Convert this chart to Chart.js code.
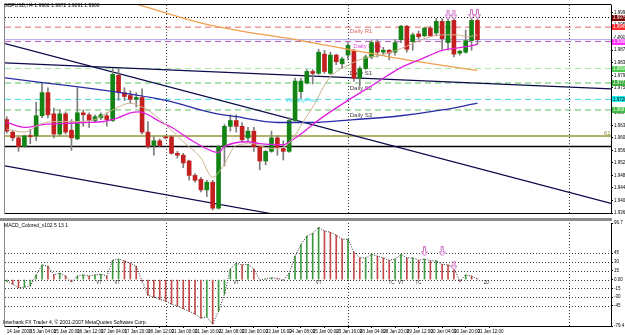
<!DOCTYPE html>
<html><head><meta charset="utf-8">
<script src="https://cdn.jsdelivr.net/npm/chart.js@4.4.0/dist/chart.umd.min.js"></script>
<style>
html,body{margin:0;padding:0;background:#fff;overflow:hidden}
#wrap{position:relative;width:625px;height:335px;background:#fff}
canvas{position:absolute;left:0}
#c1{top:0}
#c2{top:218px}
</style></head><body>
<div id="wrap"><canvas id="c1" width="625" height="218"></canvas><canvas id="c2" width="625" height="117"></canvas></div>
<script>
// ---------------- DATA ----------------
const SYMBOL = 'GBPUSD,H4';
const OPEN  = [1.9657,1.9618,1.9600,1.9573,1.9606,1.9606,1.9669,1.9741,1.9675,1.9612,1.9675,1.9624,1.9597,1.9678,1.9672,1.9654,1.9663,1.9669,1.9654,1.9795,1.9741,1.9732,1.9720,1.9726,1.9618,1.9576,1.9591,1.9603,1.9603,1.9552,1.9546,1.9528,1.9483,1.9471,1.9438,1.9462,1.9381,1.9573,1.9636,1.9654,1.9636,1.9600,1.9621,1.9573,1.9528,1.9558,1.9600,1.9567,1.9558,1.9654,1.9744,1.9771,1.9807,1.9801,1.9861,1.9801,1.9858,1.9831,1.9858,1.9870,1.9786,1.9816,1.9852,1.9897,1.9867,1.9873,1.9867,1.9906,1.9948,1.9900,1.9924,1.9918,1.9942,1.9927,1.9963,1.9897,1.9966,1.9864,1.9867,1.9903,1.9966];
const HIGH  = [1.9666,1.9624,1.9603,1.9609,1.9627,1.9711,1.9771,1.9756,1.9693,1.9687,1.9681,1.9657,1.9756,1.9687,1.9678,1.9672,1.9678,1.9678,1.9816,1.9816,1.9756,1.9747,1.9741,1.9753,1.9651,1.9603,1.9597,1.9606,1.9606,1.9558,1.9552,1.9531,1.9489,1.9477,1.9468,1.9468,1.9576,1.9642,1.9672,1.9672,1.9648,1.9633,1.9633,1.9576,1.9561,1.9621,1.9606,1.9591,1.9663,1.9786,1.9786,1.9813,1.9813,1.9876,1.9873,1.9867,1.9861,1.9852,1.9897,1.9876,1.9822,1.9858,1.9903,1.9906,1.9882,1.9876,1.9906,1.9951,1.9951,1.9927,1.9933,1.9945,1.9948,1.9972,1.9972,1.9972,1.9972,1.9873,1.9936,1.9972,1.9972];
const LOW   = [1.9615,1.9591,1.9558,1.9570,1.9582,1.9591,1.9663,1.9663,1.9600,1.9609,1.9612,1.9561,1.9594,1.9636,1.9633,1.9648,1.9657,1.9636,1.9651,1.9717,1.9717,1.9708,1.9696,1.9612,1.9567,1.9546,1.9573,1.9597,1.9549,1.9537,1.9507,1.9468,1.9462,1.9432,1.9417,1.9375,1.9378,1.9513,1.9621,1.9618,1.9588,1.9588,1.9558,1.9501,1.9516,1.9555,1.9546,1.9531,1.9555,1.9651,1.9723,1.9768,1.9768,1.9798,1.9801,1.9798,1.9828,1.9816,1.9843,1.9777,1.9762,1.9813,1.9846,1.9852,1.9858,1.9843,1.9858,1.9897,1.9867,1.9873,1.9909,1.9915,1.9915,1.9918,1.9876,1.9873,1.9852,1.9858,1.9864,1.9873,1.9891];
const CLOSE = [1.9621,1.9600,1.9573,1.9606,1.9604,1.9669,1.9741,1.9672,1.9612,1.9675,1.9618,1.9600,1.9678,1.9672,1.9654,1.9666,1.9672,1.9657,1.9798,1.9741,1.9729,1.9720,1.9726,1.9618,1.9573,1.9591,1.9576,1.9600,1.9552,1.9546,1.9522,1.9483,1.9468,1.9438,1.9462,1.9381,1.9573,1.9636,1.9654,1.9636,1.9594,1.9621,1.9573,1.9528,1.9558,1.9600,1.9570,1.9558,1.9654,1.9777,1.9777,1.9807,1.9801,1.9867,1.9807,1.9858,1.9837,1.9846,1.9888,1.9786,1.9816,1.9852,1.9897,1.9867,1.9873,1.9864,1.9897,1.9948,1.9876,1.9921,1.9915,1.9942,1.9918,1.9963,1.9909,1.9963,1.9861,1.9870,1.9903,1.9966,1.9906];

// moving averages (bar index, price)
const MA200_BARS   = [17, 22, 34, 50, 68, 80];
const MA200_VALUES = [2.0044, 2.0017, 1.9954, 1.9903, 1.9843, 1.9810];
const MA100_BARS   = [-1, 27, 35, 39, 46, 52, 59, 67, 74, 80];
const MA100_VALUES = [1.9789, 1.9717, 1.9678, 1.9666, 1.9648, 1.9648, 1.9657, 1.9669, 1.9687, 1.9708];
const MA21_BARS    = [0, 3, 6.4, 10, 13, 16.5, 19, 21, 22.5, 24, 26, 28, 31, 35, 36, 37, 41, 43, 47, 48.6, 50, 52, 55, 58, 62.5, 67, 70.5, 74, 76, 78.4, 80];
const MA21_VALUES  = [1.9648, 1.9633, 1.9642, 1.9645, 1.9648, 1.9651, 1.9663, 1.9678, 1.9681, 1.9672, 1.9651, 1.9633, 1.9597, 1.9558, 1.9555, 1.9573, 1.9588, 1.9582, 1.9579, 1.9594, 1.9612, 1.9642, 1.9681, 1.9717, 1.9768, 1.9819, 1.9846, 1.9873, 1.9879, 1.9885, 1.9891];
const MA8_BARS     = [0, 3, 5.6, 8, 11.5, 15, 16.5, 18, 21, 23, 24, 26.6, 30, 33, 35, 36.8, 39, 41.8, 44.7, 46.9, 48.6, 50.3, 52, 54.8, 58.2, 60.4, 63.7, 67.1, 70.5, 73.9, 76.4, 78.4, 80];
const MA8_VALUES   = [1.9627, 1.9618, 1.9642, 1.9651, 1.9651, 1.9657, 1.9672, 1.9687, 1.9708, 1.9696, 1.9687, 1.9648, 1.9588, 1.9537, 1.9477, 1.9513, 1.9576, 1.9582, 1.9567, 1.9570, 1.9597, 1.9648, 1.9696, 1.9786, 1.9828, 1.9846, 1.9858, 1.9879, 1.9906, 1.9921, 1.9921, 1.9915, 1.9921];

// trend lines (end points: bar index, price)
const TREND_A_BARS = [-0.3, 102.7], TREND_A_VALUES = [1.9894, 1.9396];
const TREND_B_BARS = [-0.3, 102.7], TREND_B_VALUES = [1.9834, 1.9753];
const TREND_C_BARS = [-0.3, 45.2],  TREND_C_VALUES = [1.9513, 1.9363];

// horizontal levels
const LEVEL_VALUES = [1.9975, 1.9945, 1.9906, 1.9900, 1.9816, 1.9771, 1.9720, 1.9687, 1.9606, 1.9573];
const LEVEL_NAMES  = ['', 'Daily R1', '', 'Daily Pivot', 'Daily S1', 'Daily S2', 'WeeklyPivot', 'Daily S3', '61.8', ''];
const TAG_VALUES   = [1.9975, 1.9945, 1.9906, 1.9900, 1.9816, 1.9771, 1.9720, 1.9687];

const Y_TICKS = [1.9990,1.9951,1.9912,1.9873,1.9834,1.9795,1.9756,1.9717,1.9678,1.9639,1.9600,1.9561,1.9522,1.9483,1.9444,1.9405,1.9366];
const SEPARATOR_BARS = [27, 58, 95.6];
const ARROW_BARS = [75, 76, 79, 80];
const ARROW_VALUES = [1.9984, 1.9984, 1.9985, 1.9985];

// MACD sub-window
const MACD_NAME = 'MACD_Colored_v102 5 13 1';
const MACD = [-3,-8,-14,-13,-11,8,25,23,8,11,6,-4,6,8,6,8,9,6,33,35,32,28,23,-3,-27,-30,-34,-37,-42,-45,-50,-54,-59,-66,-64,-76,-54,-25,18,28,25,26,18,-1,1,3,2,-1,11,40,60,74,79,89,83,81,76,69,69,47,37,37,43,40,37,33,35,43,37,37,33,35,32,32,26,25,20,-3,8,6,1];
const MACD_LEVELS = [45, 30, 15, 0, -15, -30, -45];
const MACD_TICKS = [96.7, 45, 30, 15, 0, -15, -30, -45, -79.4];
const MACD_TICK_LABELS = ['96.7', '45', '30', '15', '0.00', '-15', '-30', '-45', '-79.4'];
const MACD_ARROW_BARS = [71, 74, 76];
const MACD_ARROW_VALUES = [48, 48, 24];
const MACD_MARK_BARS = [15.7, 18.8, 39, 53, 65.4, 67, 70, 81.5];
const MACD_MARK_TEXTS = ['VT', 'VT', 'VT', 'VT', 'TC', 'VT', 'TC', '20'];

const X_TICK_BARS = [0,4,8,12,16,20,24,28,32,36,40,44,48,52,56,60,64,68,72,76,80];
const X_TICK_LABELS = ['14 Jan 2008','15 Jan 04:00','15 Jan 20:00','16 Jan 12:00','17 Jan 04:00','17 Jan 20:00','18 Jan 12:00','21 Jan 00:00','21 Jan 16:00','22 Jan 08:00','23 Jan 00:00','23 Jan 16:00','24 Jan 08:00','25 Jan 00:00','25 Jan 16:00','28 Jan 04:00','28 Jan 20:00','29 Jan 12:00','30 Jan 04:00','30 Jan 20:00','31 Jan 12:00'];
const FOOTER = 'Interbank FX Trader 4, \u00a9 2001-2007 MetaQuotes Software Corp.';

// ---------------- STYLES ----------------
const FONT = '"Liberation Sans", Arial, sans-serif';
Chart.defaults.font.family = FONT;
const X_MIN = -0.3, X_MAX = 102.7;
const UP = '#138413', DOWN = '#c41f1f', WICK = '#7d7d7d';
const LEVEL_STYLE = [
  {c:'#000000', d:[1,2], w:1},
  {c:'#e06a6a', d:[6,4], w:1},
  {c:'#a6a6e6', d:[], w:1},
  {c:'#c25ac2', d:[6,4], w:1},
  {c:'#a8e6a8', d:[6,4], w:1},
  {c:'#5ec05e', d:[6,4], w:1},
  {c:'#44dde6', d:[6,4], w:1},
  {c:'#5ec05e', d:[6,4], w:1},
  {c:'#b2b26e', d:[], w:2},
  {c:'#000000', d:[], w:1.5}
];
const LABEL_STYLE = [
  null,
  {bar:58.3, c:'#e06a6a', dy:1},
  null,
  {bar:58.9, c:'#e04ae0', dy:2},
  {bar:58.3, c:'#404040', dy:2},
  {bar:58.3, c:'#404040', dy:2},
  {bar:47.4, c:'#35d5e5', dy:-2},
  {bar:58.3, c:'#404040', dy:2},
  {bar:101.5, c:'#8a8a40', dy:-6},
  null
];
const TAG_STYLE = [
  {bg:'#7a0000', fg:'#ffffff'},
  {bg:'#ff2a2a', fg:'#ffffff'},
  {bg:'#ffffff', fg:'#000000'},
  {bg:'#ff2cff', fg:'#ffffff'},
  {bg:'#4ccc4c', fg:'#ffffff'},
  {bg:'#3cae3c', fg:'#ffffff'},
  {bg:'#22eeee', fg:'#000000'},
  {bg:'#3cbc3c', fg:'#ffffff'}
];

function pts(xs, ys){ return xs.map((x,i)=>({x:x, y:ys[i]})); }
function makeArrow(color){
  const c = document.createElement('canvas'); c.width = 7; c.height = 10;
  const g = c.getContext('2d');
  g.strokeStyle = color; g.fillStyle = '#ffffff'; g.lineWidth = 1;
  g.beginPath();
  g.moveTo(2.5,0.5); g.lineTo(4.5,0.5); g.lineTo(4.5,5.5); g.lineTo(6.5,5.5);
  g.lineTo(3.5,9.5); g.lineTo(0.5,5.5); g.lineTo(2.5,5.5); g.closePath();
  g.fill(); g.stroke();
  return c;
}
const ARROW_IMG = makeArrow('#cf6fc8');
const BARS = OPEN.map((_, i) => i);

// ---------------- MAIN CHART ----------------
const levelDatasets = LEVEL_VALUES.map((v, i) => ({
  type:'line', data:[{x:X_MIN, y:v},{x:X_MAX, y:v}],
  borderColor: LEVEL_STYLE[i].c, borderDash: LEVEL_STYLE[i].d, borderWidth: LEVEL_STYLE[i].w,
  pointRadius:0, order:30
}));
function trend(xs, ys, color, w){
  return {type:'line', data:pts(xs, ys), borderColor:color, borderWidth:w, pointRadius:0, order:25};
}
function ma(xs, ys, color, w){
  return {type:'line', data:pts(xs, ys), borderColor:color, borderWidth:w, pointRadius:0,
          cubicInterpolationMode:'monotone', order:5};
}

const mainPlugin = {
  id:'mainDeco',
  beforeDatasetsDraw(chart){
    const {ctx, chartArea:a, scales:{x, y}} = chart;
    ctx.save();
    ctx.beginPath(); ctx.rect(a.left, a.top, a.right-a.left, a.bottom-a.top); ctx.clip();
    // separators
    ctx.strokeStyle = '#3a3a3a'; ctx.lineWidth = 1; ctx.setLineDash([1,2]);
    SEPARATOR_BARS.forEach(b => {
      const px = Math.round(x.getPixelForValue(b)) + 0.5;
      ctx.beginPath(); ctx.moveTo(px, a.top); ctx.lineTo(px, a.bottom); ctx.stroke();
    });
    ctx.setLineDash([]);
    // level names
    ctx.font = '6px ' + FONT; ctx.textAlign = 'left'; ctx.textBaseline = 'top';
    LEVEL_NAMES.forEach((n, i) => {
      const s = LABEL_STYLE[i]; if (!n || !s) return;
      ctx.fillStyle = s.c;
      ctx.fillText(n, x.getPixelForValue(s.bar), y.getPixelForValue(LEVEL_VALUES[i]) + s.dy);
    });
    ctx.restore();
  },
  afterDraw(chart){
    const {ctx, chartArea:a, scales:{y}} = chart;
    ctx.save();
    // frame
    ctx.strokeStyle = '#000'; ctx.lineWidth = 1;
    ctx.beginPath();
    ctx.moveTo(a.left-0.5, a.top-0.5); ctx.lineTo(a.right+0.5, a.top-0.5);
    ctx.moveTo(a.left-0.5, a.bottom+0.5); ctx.lineTo(a.right+0.5, a.bottom+0.5);
    ctx.stroke();
    ctx.strokeStyle = '#8a8a8a';
    ctx.beginPath(); ctx.moveTo(a.left-0.5, a.top); ctx.lineTo(a.left-0.5, a.bottom); ctx.stroke();
    // header
    const n = OPEN.length - 1;
    ctx.fillStyle = '#000'; ctx.font = '5px ' + FONT; ctx.textBaseline = 'middle'; ctx.textAlign = 'left';
    ctx.fillText(SYMBOL + ' ' + [OPEN[n], HIGH[n], LOW[n], CLOSE[n]].map(v => v.toFixed(4)).join(' '), 4, 6);
    // price tags
    ctx.font = '4.5px ' + FONT; ctx.textAlign = 'left';
    TAG_VALUES.forEach((v, i) => {
      const py = y.getPixelForValue(v);
      ctx.fillStyle = TAG_STYLE[i].bg;
      ctx.fillRect(a.right + 1, Math.round(py) - 3, 13, 6);
      ctx.fillStyle = TAG_STYLE[i].fg;
      ctx.fillText(v.toFixed(4), a.right + 2, py);
    });
    ctx.restore();
  }
};

new Chart(document.getElementById('c1'), {
  type:'bar',
  data:{ datasets:[
    {type:'scatter', data:pts(ARROW_BARS, ARROW_VALUES), pointStyle:ARROW_IMG, order:1},
    ma(MA8_BARS, MA8_VALUES, '#cdb08e', 1),
    ma(MA21_BARS, MA21_VALUES, '#e21fe2', 1.3),
    ma(MA100_BARS, MA100_VALUES, '#2a2aa8', 1.3),
    ma(MA200_BARS, MA200_VALUES, '#f0a04c', 1.3),
    {type:'bar', data:BARS.map(i => ({x:i, y:[OPEN[i], CLOSE[i]]})),
     backgroundColor: c => CLOSE[c.dataIndex] >= OPEN[c.dataIndex] ? UP : DOWN,
     barThickness:4, grouped:false, minBarLength:1, order:10},
    {type:'bar', data:BARS.map(i => ({x:i, y:[LOW[i], HIGH[i]]})),
     backgroundColor: WICK, barThickness:1, grouped:false, minBarLength:1, order:11},
    trend(TREND_A_BARS, TREND_A_VALUES, '#0a0a4a', 1.2),
    trend(TREND_B_BARS, TREND_B_VALUES, '#0a0a4a', 1.2),
    trend(TREND_C_BARS, TREND_C_VALUES, '#0a0a4a', 1.2),
    ...levelDatasets
  ]},
  options:{
    responsive:false, animation:false, devicePixelRatio:1,
    layout:{padding:{left:1, top:1, right:0, bottom:1}},
    plugins:{legend:{display:false}, tooltip:{enabled:false}},
    scales:{
      x:{type:'linear', min:X_MIN, max:X_MAX, offset:false, display:false},
      y:{type:'linear', position:'right', min:1.9366, max:2.0014,
         afterFit(s){ s.width = 14; s.paddingTop = 0; s.paddingBottom = 0; },
         afterBuildTicks(s){ s.ticks = Y_TICKS.map(v => ({value:v})); },
         ticks:{callback:v => Number(v).toFixed(4), font:{size:4.5}, color:'#000', padding:1, autoSkip:false},
         grid:{drawOnChartArea:false, tickLength:2, color:'#000'},
         border:{color:'#000'}}
    }
  },
  plugins:[mainPlugin]
});

// ---------------- MACD CHART ----------------
const macdPlugin = {
  id:'macdDeco',
  beforeDatasetsDraw(chart){
    const {ctx, chartArea:a, scales:{x, y}} = chart;
    ctx.save();
    ctx.strokeStyle = '#3a3a3a'; ctx.lineWidth = 1; ctx.setLineDash([1,2]);
    MACD_LEVELS.forEach(v => {
      const py = Math.round(y.getPixelForValue(v)) + 0.5;
      ctx.beginPath(); ctx.moveTo(a.left, py); ctx.lineTo(a.right, py); ctx.stroke();
    });
    SEPARATOR_BARS.forEach(b => {
      const px = Math.round(x.getPixelForValue(b)) + 0.5;
      ctx.beginPath(); ctx.moveTo(px, a.top); ctx.lineTo(px, a.bottom); ctx.stroke();
    });
    ctx.restore();
  },
  afterDraw(chart){
    const {ctx, chartArea:a, scales:{x, y}} = chart;
    ctx.save();
    ctx.fillStyle = '#8c8c8c';
    ctx.fillRect(0, 0, a.right + 1, 3);
    ctx.strokeStyle = '#000'; ctx.lineWidth = 1;
    ctx.beginPath(); ctx.moveTo(a.left-0.5, a.bottom+0.5); ctx.lineTo(a.right+0.5, a.bottom+0.5); ctx.stroke();
    ctx.strokeStyle = '#8a8a8a';
    ctx.beginPath(); ctx.moveTo(a.left-0.5, a.top); ctx.lineTo(a.left-0.5, a.bottom); ctx.stroke();
    ctx.fillStyle = '#000'; ctx.font = '5px ' + FONT; ctx.textAlign = 'left'; ctx.textBaseline = 'middle';
    ctx.fillText(MACD_NAME, 4, 8);
    ctx.fillText(FOOTER, 3, a.bottom - 3);
    ctx.font = '4.5px ' + FONT; ctx.textAlign = 'center'; ctx.fillStyle = '#202020';
    MACD_MARK_BARS.forEach((b, i) => {
      ctx.fillText(MACD_MARK_TEXTS[i], x.getPixelForValue(b), y.getPixelForValue(-6));
    });
    ctx.restore();
  }
};

new Chart(document.getElementById('c2'), {
  type:'bar',
  data:{ datasets:[
    {type:'scatter', data:pts(MACD_ARROW_BARS, MACD_ARROW_VALUES), pointStyle:ARROW_IMG, order:1},
    {type:'line', data:MACD.map((v, i) => ({x:i, y:v})), borderColor:'#2e2e2e', borderWidth:1,
     borderDash:[1,1.5], pointRadius:0, order:2},
    {type:'bar', data:MACD.map((v, i) => ({x:i, y:v})),
     backgroundColor: c => { const i = c.dataIndex; return (i === 0 || MACD[i] >= MACD[i-1]) ? '#3e9a3e' : '#c44848'; },
     barThickness:1, grouped:false, order:3}
  ]},
  options:{
    responsive:false, animation:false, devicePixelRatio:1,
    layout:{padding:{left:1, top:3, right:0, bottom:0}},
    plugins:{legend:{display:false}, tooltip:{enabled:false}},
    scales:{
      x:{type:'linear', min:X_MIN, max:X_MAX, offset:false, position:'bottom',
         afterFit(s){ s.height = 9; s.paddingLeft = 0; s.paddingRight = 0; },
         afterBuildTicks(s){ s.ticks = X_TICK_BARS.map(v => ({value:v})); },
         ticks:{autoSkip:false, maxRotation:0, minRotation:0, align:'start', font:{size:4.5}, color:'#000', padding:1,
                callback:(v, i) => X_TICK_LABELS[i]},
         grid:{drawOnChartArea:false, tickLength:2, color:'#000'},
         border:{color:'#000'}},
      y:{type:'linear', position:'right', min:-79.4, max:96.7,
         afterFit(s){ s.width = 14; s.paddingTop = 0; s.paddingBottom = 0; },
         afterBuildTicks(s){ s.ticks = MACD_TICKS.map(v => ({value:v})); },
         ticks:{autoSkip:false, font:{size:4.5}, color:'#000', padding:1,
                callback:(v, i) => MACD_TICK_LABELS[i]},
         grid:{drawOnChartArea:false, tickLength:2, color:'#000'},
         border:{color:'#000'}}
    }
  },
  plugins:[macdPlugin]
});
</script>
</body></html>
